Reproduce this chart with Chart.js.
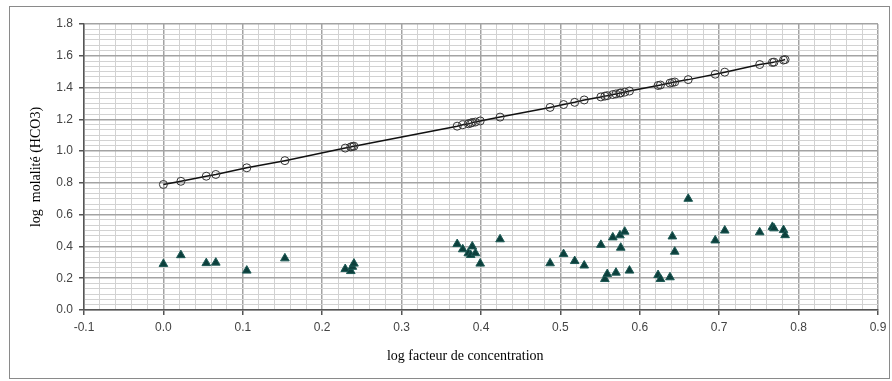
<!DOCTYPE html>
<html>
<head>
<meta charset="utf-8">
<script src="https://cdn.jsdelivr.net/npm/chart.js@4/dist/chart.umd.min.js"></script>
<style>
  html, body { margin: 0; padding: 0; background: #fff; }
  #wrap { position: relative; width: 892px; height: 381px; }
  #cadre { position: absolute; left: 9px; top: 6px; width: 879px; height: 371px; border: 1px solid #8a8a8a; box-sizing: content-box; }
  canvas { position: absolute; left: 0; top: 0; }
</style>
</head>
<body>
<div id="wrap">
  <div id="cadre"></div>
  <canvas id="graphe" width="892" height="381"></canvas>
</div>
<script>
// log facteur de concentration (shared by both series)
var logFacteur = [0.000,0.022,0.054,0.066,0.105,0.153,0.229,0.236,0.238,0.240,
  0.370,0.377,0.384,0.387,0.389,0.393,0.399,0.424,0.487,0.504,
  0.518,0.530,0.551,0.556,0.559,0.566,0.570,0.575,0.576,0.581,
  0.587,0.623,0.626,0.638,0.641,0.644,0.661,0.695,0.707,0.751,
  0.767,0.769,0.781,0.783];

// courbe théorique (cercles + ligne)
var logHCO3Calc = [0.790,0.810,0.842,0.853,0.895,0.940,1.019,1.026,1.029,1.031,
  1.157,1.166,1.172,1.176,1.180,1.183,1.190,1.214,1.275,1.293,
  1.307,1.322,1.341,1.346,1.349,1.356,1.360,1.365,1.366,1.371,
  1.378,1.413,1.416,1.428,1.432,1.435,1.450,1.484,1.497,1.545,
  1.558,1.560,1.573,1.576];

// valeurs mesurées (triangles)
var logHCO3Mes = [0.290,0.345,0.295,0.298,0.248,0.325,0.258,0.245,0.272,0.292,
  0.415,0.382,0.357,0.346,0.400,0.357,0.292,0.445,0.294,0.352,
  0.308,0.280,0.410,0.195,0.226,0.457,0.235,0.470,0.392,0.493,
  0.248,0.220,0.195,0.206,0.463,0.367,0.700,0.438,0.500,0.489,
  0.523,0.514,0.503,0.471];

var xTickLabels = ['-0.1','0.0','0.1','0.2','0.3','0.4','0.5','0.6','0.7','0.8','0.9'];
var yTickLabels = ['0.0','0.2','0.4','0.6','0.8','1.0','1.2','1.4','1.6','1.8'];

var MAJOR = '#a3a3a3', MINOR = '#d2d2d2', AXE = '#555555';
var xMinorPerMajor = 5, yMinorPerMajor = 6;

function pts(ys) {
  return logFacteur.map(function (x, i) { return { x: x, y: ys[i] }; });
}

var config = {
  type: 'scatter',
  data: {
    datasets: [{
      label: 'calculé',
      data: pts(logHCO3Calc),
      showLine: true,
      borderColor: '#111',
      borderWidth: 1.5,
      pointStyle: 'circle',
      pointRadius: 4,
      pointBorderColor: '#333',
      pointBackgroundColor: 'rgba(0,0,0,0)',
      pointBorderWidth: 1
    }, {
      label: 'mesuré',
      data: pts(logHCO3Mes),
      showLine: false,
      pointStyle: 'triangle',
      pointRadius: 5,
      pointBackgroundColor: '#0c3f3c',
      pointBorderColor: '#1d5a55',
      pointBorderWidth: 1
    }]
  },
  options: {
    responsive: false,
    animation: false,
    layout: { padding: { top: 24, right: 14, bottom: 0, left: 0 } },
    plugins: {
      legend: { display: false },
      tooltip: { enabled: false }
    },
    scales: {
      x: {
        type: 'linear',
        min: -0.1,
        max: 0.9,
        afterBuildTicks: function (scale) {
          var t = [];
          for (var i = 0; i <= 50; i++) t.push({ value: -0.1 + i * 0.02 });
          scale.ticks = t;
        },
        afterFit: function (scale) { scale.height = 71; },
        ticks: {
          autoSkip: false,
          maxRotation: 0,
          padding: 5,
          color: '#444',
          font: { family: 'Liberation Sans', size: 12 },
          callback: function (v, i) {
            return i % xMinorPerMajor === 0 ? xTickLabels[i / xMinorPerMajor] : '';
          }
        },
        grid: {
          color: function (c) { return c.index % xMinorPerMajor === 0 ? MAJOR : MINOR; },
          lineWidth: function (c) { return c.index % xMinorPerMajor === 0 ? 1.5 : 1; },
          tickLength: 5,
          tickColor: function (c) { return c.index % xMinorPerMajor === 0 ? AXE : 'rgba(0,0,0,0)'; }
        },
        border: { color: AXE, width: 1.5 },
        title: {
          display: true,
          // trailing spaces nudge the centred title left, as in the original
          text: 'log facteur de concentration\u00a0\u00a0\u00a0\u00a0\u00a0\u00a0\u00a0\u00a0\u00a0',
          color: '#000',
          font: { family: 'Liberation Serif', size: 14 },
          padding: { top: 0, bottom: 16 }
        }
      },
      y: {
        type: 'linear',
        min: 0,
        max: 1.8,
        afterBuildTicks: function (scale) {
          var t = [];
          for (var i = 0; i <= 54; i++) t.push({ value: i * 0.2 / yMinorPerMajor });
          scale.ticks = t;
        },
        afterFit: function (scale) { scale.width = 84; },
        ticks: {
          autoSkip: false,
          padding: 6,
          color: '#444',
          font: { family: 'Liberation Sans', size: 12 },
          callback: function (v, i) {
            return i % yMinorPerMajor === 0 ? yTickLabels[i / yMinorPerMajor] : '';
          }
        },
        grid: {
          color: function (c) { return c.index % yMinorPerMajor === 0 ? MAJOR : MINOR; },
          lineWidth: function (c) { return c.index % yMinorPerMajor === 0 ? 1.5 : 1; },
          tickLength: 5,
          tickColor: function (c) { return c.index % yMinorPerMajor === 0 ? AXE : 'rgba(0,0,0,0)'; }
        },
        border: { color: AXE, width: 1.5 },
        title: {
          display: true,
          text: 'log  molalité (HCO3)',
          color: '#000',
          font: { family: 'Liberation Serif', size: 14 },
          padding: { top: 28, bottom: 0 }
        }
      }
    }
  }
};

window.onload = function () {
  var ctx = document.getElementById('graphe').getContext('2d');
  window.graphe = new Chart(ctx, config);
};
</script>
</body>
</html>
